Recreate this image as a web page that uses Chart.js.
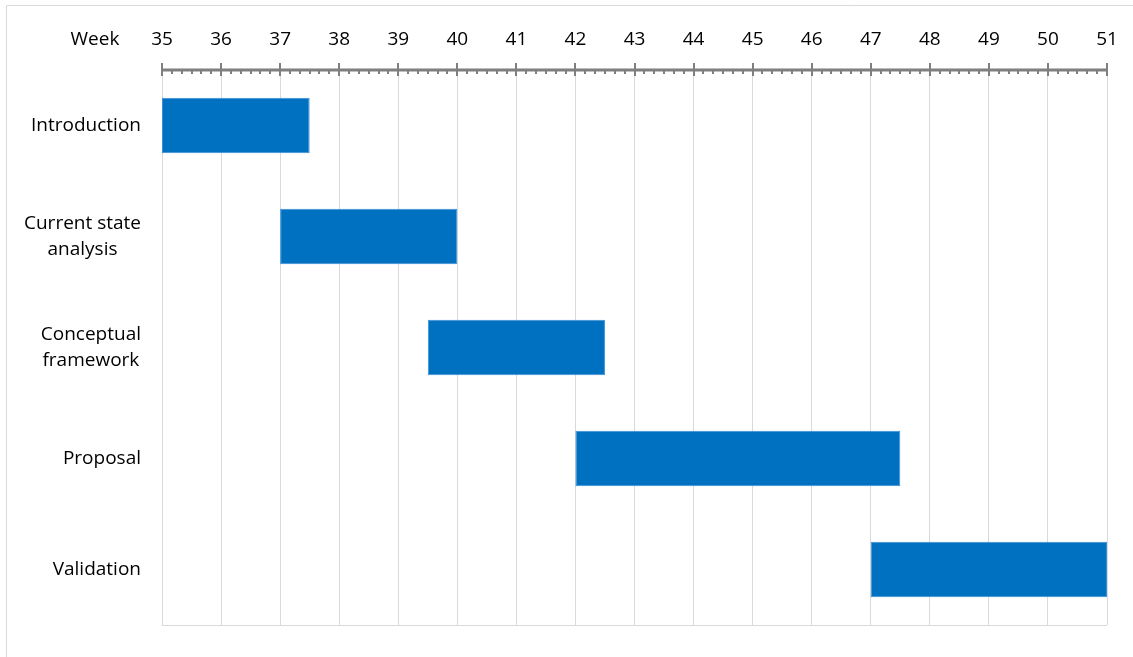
<!DOCTYPE html>
<html>
<head>
<meta charset="utf-8">
<script src="https://cdn.jsdelivr.net/npm/chart.js@4"></script>
<style>
html,body{margin:0;padding:0;background:#fff;}
#wrap{width:1133px;height:657px;position:relative;}
</style>
</head>
<body>
<div id="wrap"><canvas id="c" width="1133" height="657"></canvas></div>
<script>
const tasks = ["Introduction", ["Current state", "analysis"], ["Conceptual", "framework"], "Proposal", "Validation"];
const startWeek = [35, 37, 39.5, 42, 47];
const endWeek = [37.5, 40, 42.5, 47.5, 51];
const weekMin = 35;
const weekMax = 51;
const axisTitle = "Week";

const FONT = "'Open Sans', sans-serif";
const FSIZE = 19;

const ganttPlugin = {
  id: 'gantt',
  beforeDraw(chart) {
    const ctx = chart.ctx;
    ctx.save();
    ctx.strokeStyle = '#d9d9d9';
    ctx.lineWidth = 1;
    ctx.beginPath();
    ctx.moveTo(6.5, 657);
    ctx.lineTo(6.5, 5.5);
    ctx.lineTo(1133, 5.5);
    ctx.stroke();
    ctx.restore();
  },
  afterDraw(chart) {
    const ctx = chart.ctx;
    const xs = chart.scales.x;
    const ys = chart.scales.y;
    const area = chart.chartArea;
    ctx.save();
    ctx.strokeStyle = '#d9d9d9';
    ctx.lineWidth = 1;
    ctx.beginPath();
    ctx.moveTo(area.left, area.bottom + 0.5);
    ctx.lineTo(area.right, area.bottom + 0.5);
    ctx.stroke();
    const y0 = area.top;
    ctx.strokeStyle = '#7f7f7f';
    ctx.lineWidth = 3;
    ctx.beginPath();
    ctx.moveTo(xs.getPixelForValue(weekMin), y0);
    ctx.lineTo(xs.getPixelForValue(weekMax), y0);
    ctx.stroke();
    ctx.lineWidth = 2;
    for (let w = weekMin; w <= weekMax; w++) {
      const px = Math.round(xs.getPixelForValue(w));
      ctx.beginPath();
      ctx.moveTo(px, y0 - 7);
      ctx.lineTo(px, y0 + 6);
      ctx.stroke();
    }
    for (let w = weekMin; w < weekMax; w++) {
      for (let k = 1; k < 6; k++) {
        const px = Math.round(xs.getPixelForValue(w + k / 6));
        ctx.beginPath();
        ctx.moveTo(px, y0);
        ctx.lineTo(px, y0 + 4);
        ctx.stroke();
      }
    }
    ctx.fillStyle = '#000';
    ctx.font = FSIZE + 'px ' + FONT;
    ctx.textAlign = 'center';
    ctx.textBaseline = 'middle';
    ctx.fillText(axisTitle, 95, 40);
    const lh = 26;
    tasks.forEach((lab, i) => {
      const lines = Array.isArray(lab) ? lab : [lab];
      const cy = ys.getPixelForValue(i);
      const widths = lines.map(l => ctx.measureText(l).width);
      const bw = Math.max(...widths);
      const right = area.left - 21;
      const cx = right - bw / 2;
      const top = cy - (lines.length - 1) * lh / 2;
      lines.forEach((l, j) => {
        ctx.fillText(l, cx, top + j * lh);
      });
    });
    ctx.restore();
  }
};

new Chart(document.getElementById('c'), {
  type: 'bar',
  data: {
    labels: tasks,
    datasets: [{
      data: startWeek.map((s, i) => [s, endWeek[i]]),
      backgroundColor: '#0070c0',
      borderColor: '#3a8fd6',
      borderWidth: 1,
      borderSkipped: false,
      barPercentage: 0.5,
      categoryPercentage: 1.0
    }]
  },
  options: {
    indexAxis: 'y',
    responsive: false,
    animation: false,
    devicePixelRatio: 1,
    layout: { padding: { left: 0, top: 0, right: 26, bottom: 32 } },
    plugins: { legend: { display: false }, tooltip: { enabled: false } },
    scales: {
      x: {
        position: 'top',
        min: weekMin,
        max: weekMax,
        afterFit(scale) { scale.height = 70; scale.paddingLeft = 0; scale.paddingRight = 0; },
        border: { display: false },
        grid: { color: '#d9d9d9', lineWidth: 1, drawTicks: false },
        ticks: {
          stepSize: 1,
          padding: 19,
          color: '#000',
          font: { family: FONT, size: FSIZE },
          maxRotation: 0,
          autoSkip: false
        }
      },
      y: {
        afterFit(scale) { scale.width = 162; },
        border: { display: false },
        grid: { display: false },
        ticks: { display: false }
      }
    }
  },
  plugins: [ganttPlugin]
});
</script>
</body>
</html>
